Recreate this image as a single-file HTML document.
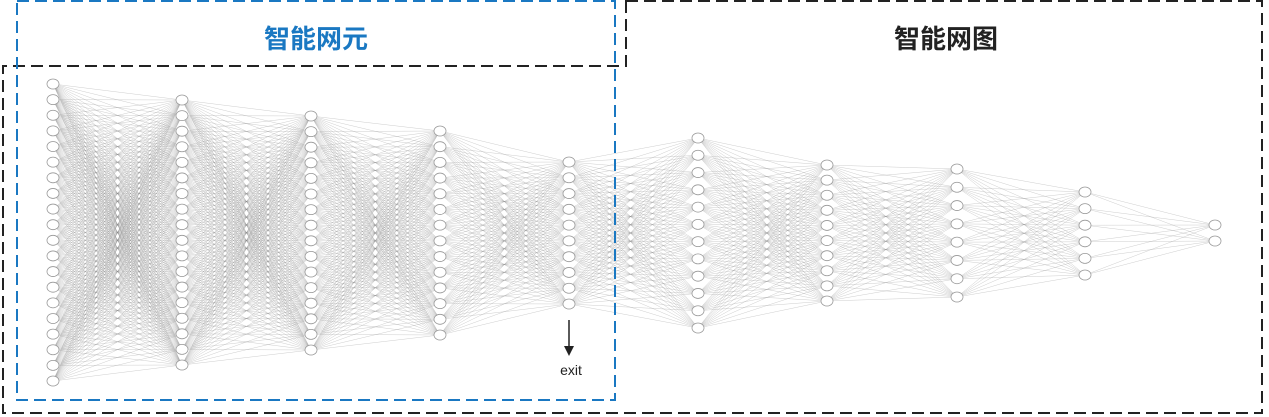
<!DOCTYPE html>
<html><head><meta charset="utf-8"><style>
html,body{margin:0;padding:0;background:#fff;width:1269px;height:417px;overflow:hidden}
svg{display:block}
</style></head><body>
<svg id="chart" width="1269" height="417" xmlns="http://www.w3.org/2000/svg">
<g id="edges"></g>
<g id="nodes"></g>
<path d="M626,1 H1262 V413 H3 V66 H626 Z" fill="none" stroke="#222" stroke-width="2" stroke-dasharray="12,6"/>
<rect x="17" y="1" width="598" height="399" fill="none" stroke="#1a78c2" stroke-width="2" stroke-dasharray="12,6"/>
<text x="316" y="48" text-anchor="middle" font-family="Liberation Sans, Noto Sans CJK SC, sans-serif" font-weight="bold" font-size="26" fill="#1a78c2">智能网元</text>
<text x="946" y="48" text-anchor="middle" font-family="Liberation Sans, Noto Sans CJK SC, sans-serif" font-weight="bold" font-size="26" fill="#222">智能网图</text>
<line x1="569" y1="320" x2="569" y2="348" stroke="#222" stroke-width="1.5"/>
<polygon points="564,346 574,346 569,356" fill="#222"/>
<text x="571" y="375" text-anchor="middle" font-family="Liberation Sans, sans-serif" font-size="14" fill="#222">exit</text>
</svg>
<script>
const layerX=[53,182,311,440,569,698,827,957,1085,1215];
const layerCounts=[20,18,16,14,10,12,10,8,6,2];
const layerTop=[84,100,116,131,162,138,165,169,192,225];
const layerBottom=[381,365,350,335,304,328,301,297,275,241];
const NS='http://www.w3.org/2000/svg';
const eg=document.getElementById('edges'),ng=document.getElementById('nodes');
function ys(i){const n=layerCounts[i],a=[];for(let k=0;k<n;k++)a.push(n===1?(layerTop[i]+layerBottom[i])/2:layerTop[i]+(layerBottom[i]-layerTop[i])*k/(n-1));return a;}
for(let i=0;i<layerX.length-1;i++){
  const a=ys(i),b=ys(i+1);
  for(const y1 of a)for(const y2 of b){
    const l=document.createElementNS(NS,'line');
    
    
    l.setAttribute('x1',layerX[i]);l.setAttribute('y1',y1);l.setAttribute('x2',layerX[i+1]);l.setAttribute('y2',y2);
    l.setAttribute('stroke','#888');l.setAttribute('stroke-width','0.35');l.setAttribute('stroke-opacity','0.6');
    eg.appendChild(l);
  }
}
for(let i=0;i<layerX.length;i++){
  for(const y of ys(i)){
    const e=document.createElementNS(NS,'ellipse');
    
    
    e.setAttribute('cx',layerX[i]);e.setAttribute('cy',y);e.setAttribute('rx',6);e.setAttribute('ry',5);
    e.setAttribute('fill','#fff');e.setAttribute('stroke','#999');e.setAttribute('stroke-width','0.8');
    ng.appendChild(e);
  }
}
</script>
</body></html>
